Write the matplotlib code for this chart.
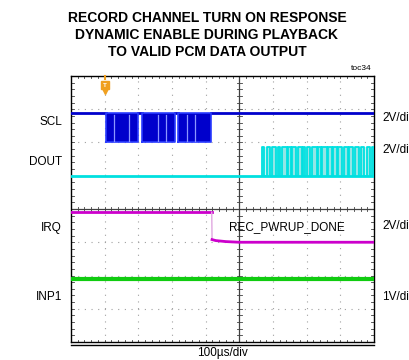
import matplotlib
matplotlib.use("Agg")
import matplotlib.pyplot as plt
import numpy as np
from matplotlib import font_manager

names = {f.name for f in font_manager.fontManager.ttflist}
narrow = "Liberation Sans Narrow" if "Liberation Sans Narrow" in names else "Liberation Sans"
plt.rcParams['font.family'] = ['Liberation Sans', 'DejaVu Sans']

# ---- data (in scope divisions) ----
title_lines = ["RECORD CHANNEL TURN ON RESPONSE",
               "DYNAMIC ENABLE DURING PLAYBACK",
               "TO VALID PCM DATA OUTPUT"]
channel_names = ["SCL", "DOUT", "IRQ", "INP1"]
channel_scales = ["2V/div", "2V/div", "2V/div", "1V/div"]
x_label = "100µs/div"
annotation = "REC_PWRUP_DONE"

scl_high, scl_low = 6.88, 6.0
scl_bursts = [(1.03, 2.00), (2.12, 3.09), (3.19, 4.17)]
scl_gaps = [1.29, 1.73, 2.59, 2.82, 3.45, 3.68]

dout_low, dout_high = 4.99, 5.86
dout_pulses = [(5.68, 5.74), (5.81, 5.91), (5.96, 6.08), (6.14, 6.21), (6.26, 6.41),
               (6.46, 6.53), (6.57, 6.67), (6.75, 6.85), (6.90, 6.95), (7.00, 7.10),
               (7.15, 7.30), (7.35, 7.42), (7.47, 7.60), (7.64, 7.74), (7.79, 7.89),
               (7.94, 8.06), (8.12, 8.22), (8.26, 8.39), (8.44, 8.54), (8.61, 8.71),
               (8.78, 8.88), (8.93, 9.00)]

irq_x = [0.0, 4.18, 4.19, 4.30, 4.60, 5.00, 9.0]
irq_y = [3.90, 3.90, 3.08, 3.05, 3.02, 3.00, 3.00]

inp1_level = 1.89
trigger_x = 1.0

W, H = 409, 360
fig = plt.figure(figsize=(W/100, H/100), dpi=100)
ax = fig.add_axes([71/W, 18/H, 303/W, 266/H])
ax.set_xlim(0, 9)
ax.set_ylim(0, 8)
ax.set_xticks([]); ax.set_yticks([])
for s in ax.spines.values():
    s.set_linewidth(1.0); s.set_color('black')

# grid
grid_kw = dict(color='#a0a0a0', lw=0.8, ls=(0, (1, 5)), zorder=0)
for gx in range(1, 9):
    if gx != 5:
        ax.axvline(gx, **grid_kw)
for gy in range(1, 8):
    if gy != 4:
        ax.axhline(gy, **grid_kw)
ax.axvline(5, color='#404040', lw=0.9, zorder=1)
ax.axhline(4, color='#404040', lw=0.9, zorder=1)
# minor ticks
tl = 0.07
for t in np.arange(0, 9.01, 0.2):
    ax.plot([t, t], [4 - tl, 4 + tl], color='#404040', lw=0.6, zorder=1)
    ax.plot([t, t], [8, 8 - tl], color='#404040', lw=0.6, zorder=1)
    ax.plot([t, t], [0, tl], color='#404040', lw=0.6, zorder=1)
for t in np.arange(0, 8.01, 0.2):
    ax.plot([5 - tl*1.1, 5 + tl*1.1], [t, t], color='#404040', lw=0.6, zorder=1)
    ax.plot([0, tl*1.1], [t, t], color='#404040', lw=0.6, zorder=1)
    ax.plot([9, 9 - tl*1.1], [t, t], color='#404040', lw=0.6, zorder=1)

# SCL
blue = '#0000cc'
segs = []
prev = 0.0
for a, b in scl_bursts:
    segs.append((prev, a))
    prev = b
segs.append((prev, 9.0))
for a, b in segs:
    ax.plot([a, b], [scl_high, scl_high], color=blue, lw=2.0, zorder=3)
for a, b in scl_bursts:
    ax.fill_between([a, b], scl_low, scl_high, color=blue, lw=0, zorder=3)
    ax.plot([a, b, b, a, a], [scl_low, scl_low, scl_high, scl_high, scl_low],
            color='#2a3cff', lw=1.2, zorder=3)
for g in scl_gaps:
    ax.plot([g, g], [scl_low + 0.05, scl_high - 0.05], color='#8c96ff', lw=0.9, zorder=4)

# DOUT
cyan = '#00e0e0'
first = dout_pulses[0][0]
ax.plot([0, 9], [dout_low, dout_low], color=cyan, lw=2.0, zorder=3)
ax.fill_between([first, 9], dout_low, dout_high, color='#c8f5f5', lw=0, zorder=2)
px, py = [first], [dout_low]
for a, b in dout_pulses:
    px += [a, a, b, b]
    py += [dout_low, dout_high, dout_high, dout_low]
ax.plot(px, py, color=cyan, lw=1.3, zorder=3)
for a, b in dout_pulses:
    ax.fill_between([a, b], dout_low, dout_high, color='#5fd8d8', alpha=0.5, lw=0, zorder=2)

# IRQ
magenta = '#cc00cc'
ax.plot(irq_x[:2], irq_y[:2], color=magenta, lw=2.0, zorder=3)
ax.plot(irq_x[1:3], irq_y[1:3], color='#e0a8e0', lw=1.0, zorder=3)
ax.plot(irq_x[2:], irq_y[2:], color=magenta, lw=2.0, zorder=3)

# INP1
ax.plot([0, 9], [inp1_level, inp1_level], color='#10cc10', lw=3.0, zorder=3)

# trigger marker
ax.plot([trigger_x], [7.72], marker='s', ms=6, color='#f0a020', zorder=5, clip_on=False)
ax.plot([trigger_x], [7.55], marker='v', ms=4, color='#f0a020', zorder=5, clip_on=False)
ax.plot([trigger_x, trigger_x], [8, 7.9], color='#f0a020', lw=1.5, zorder=5, clip_on=False)
ax.text(trigger_x, 7.72, 'T', color='white', fontsize=4.5, ha='center', va='center',
        fontweight='bold', zorder=6)

# REC_PWRUP_DONE
ax.text(6.42, 3.45, annotation, fontsize=8.5, ha='center', va='center', color='black')

# bottom double line
fig.add_artist(plt.Line2D([71/W, 374/W], [1 - 345/H, 1 - 345/H], color='black', lw=1.0))

def ftxt(x, y, s, **kw):
    fig.text(x / W, 1 - y / H, s, **kw)

for i, line in enumerate(title_lines):
    ftxt(207, 18.5 + i * 16.7, line, fontsize=10, fontweight='bold', ha='center', va='center',
         family=[narrow, 'DejaVu Sans'])
ftxt(372, 68, "toc34", fontsize=6, ha='right', va='center', family=[narrow, 'DejaVu Sans'])

left_y = [122, 162, 228, 297]
for name, y in zip(channel_names, left_y):
    ftxt(62, y, name, fontsize=8.5, ha='right', va='center')
right_y = [118, 150, 226, 297]
for sc, y in zip(channel_scales, right_y):
    ftxt(382, y, sc, fontsize=8.5, ha='left', va='center')
ftxt(222, 353, x_label, fontsize=8.5, ha='center', va='center')

fig.savefig("out.png", dpi=100)
